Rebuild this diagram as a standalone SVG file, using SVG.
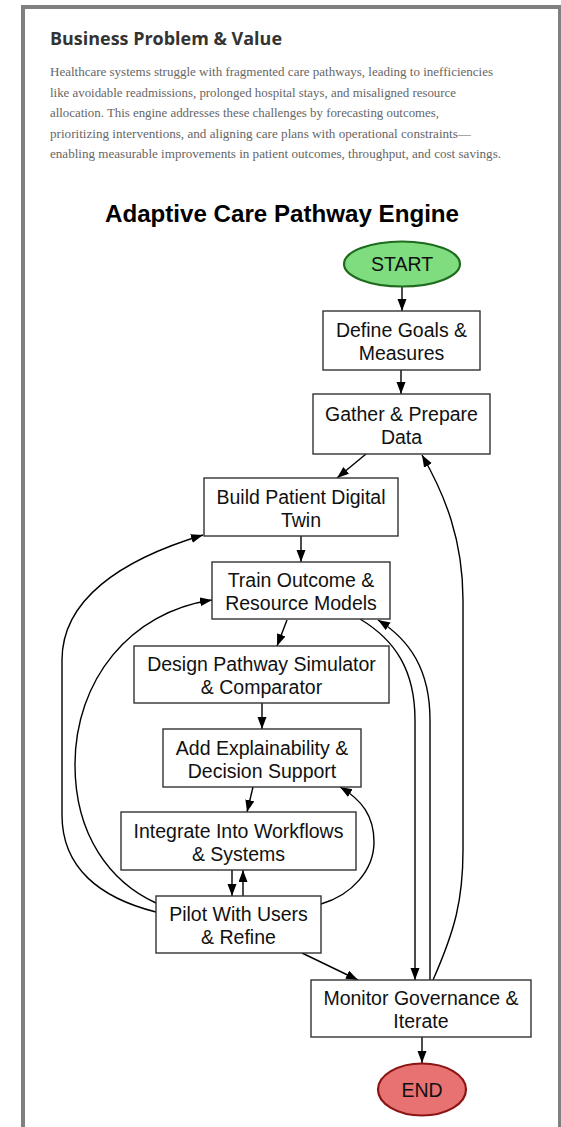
<svg xmlns="http://www.w3.org/2000/svg" width="561" height="1127" viewBox="0 0 561 1127">
  <style>
    .frame { fill: #ffffff; stroke: #808080; stroke-width: 4; }
    .h2 { font-family: "Open Sans", "Liberation Sans", sans-serif; font-weight: 700; font-size: 18px; fill: #333333; }
    .para { font-family: "Liberation Serif", "DejaVu Serif", serif; font-size: 12px; fill: #666666; }
    .title { font-family: "Liberation Sans", Arial, sans-serif; font-weight: 700; font-size: 24.5px; fill: #000000; }
    .box { fill: #ffffff; stroke: #333333; stroke-width: 1.4; }
    .lbl { font-family: "Liberation Sans", Arial, sans-serif; font-size: 19.5px; fill: #111111; text-anchor: middle; }
    .start { fill: #7fdc7f; stroke: #1e6b1e; stroke-width: 2.2; }
    .end { fill: #e87272; stroke: #8b1414; stroke-width: 2.2; }
    .edge { fill: none; stroke: #000000; stroke-width: 1.4; marker-end: url(#arrow); }
  </style>
  <defs>
    <marker id="arrow" markerUnits="userSpaceOnUse" markerWidth="13" markerHeight="10" refX="12" refY="4.5" orient="auto">
      <path d="M0,0 L12,4.5 L0,9 Z" fill="#000000"/>
    </marker>
  </defs>

  <rect class="frame" x="23" y="7" width="537" height="1200"/>

  <!-- intro section -->
  <text class="h2" x="50" y="44.5" textLength="232" lengthAdjust="spacingAndGlyphs">Business Problem &amp; Value</text>
  <g class="para">
    <text x="50" y="76" textLength="443" lengthAdjust="spacingAndGlyphs">Healthcare systems struggle with fragmented care pathways, leading to inefficiencies</text>
    <text x="50" y="96.5" textLength="406" lengthAdjust="spacingAndGlyphs">like avoidable readmissions, prolonged hospital stays, and misaligned resource</text>
    <text x="50" y="117" textLength="389" lengthAdjust="spacingAndGlyphs">allocation. This engine addresses these challenges by forecasting outcomes,</text>
    <text x="50" y="137.5" textLength="421" lengthAdjust="spacingAndGlyphs">prioritizing interventions, and aligning care plans with operational constraints—</text>
    <text x="50" y="158" textLength="451" lengthAdjust="spacingAndGlyphs">enabling measurable improvements in patient outcomes, throughput, and cost savings.</text>
  </g>

  <text class="title" x="105" y="222" textLength="354" lengthAdjust="spacingAndGlyphs">Adaptive Care Pathway Engine</text>

  <!-- connectors -->
  <g id="edges">
    <path class="edge" d="M402,287 L402,311"/>
    <path class="edge" d="M401,370 L401,394"/>
    <path class="edge" d="M366,454 L337,478"/>
    <path class="edge" d="M301,536 L301,562"/>
    <path class="edge" d="M287,620 L277,646"/>
    <path class="edge" d="M262,703 L262,729"/>
    <path class="edge" d="M253,787 L247,812"/>
    <path class="edge" d="M232,870 L232,896"/>
    <path class="edge" d="M243,896 L243,870"/>
    <path class="edge" d="M302,953 L358,980"/>
    <path class="edge" d="M422,1037 L422,1063"/>
    <!-- Train -> Monitor -->
    <path class="edge" d="M360,619 C395,640 415,670 415,720 L415,980"/>
    <!-- Monitor -> Train -->
    <path class="edge" d="M430,980 L430,720 C430,670 410,640 378,620"/>
    <!-- Monitor -> Gather -->
    <path class="edge" d="M433,980 C455,930 463,900 463,850 L463,600 C463,540 445,495 422,455"/>
    <!-- Pilot -> Build -->
    <path class="edge" d="M156,912 C100,898 62,868 62,815 L62,660 C62,600 120,560 203,535"/>
    <!-- Pilot -> Train -->
    <path class="edge" d="M156,903 C110,882 75,835 75,765 C75,680 130,612 212,600"/>
    <!-- Pilot -> Add -->
    <path class="edge" d="M321,904 C352,895 374,870 374,842 C374,816 362,800 340,787"/>
  </g>

  <!-- nodes -->
  <g id="start">
    <ellipse class="start" cx="402" cy="264" rx="58" ry="22.5"/>
    <text class="lbl" x="402" y="271" font-size="20.5">START</text>
  </g>
  <g id="define-goals">
    <rect class="box" x="323" y="311" width="157" height="59"/>
    <text class="lbl" x="401.5" y="337">Define Goals &amp;</text>
    <text class="lbl" x="401.5" y="360">Measures</text>
  </g>
  <g id="gather-data">
    <rect class="box" x="313" y="394" width="177" height="60"/>
    <text class="lbl" x="401.5" y="420.5">Gather &amp; Prepare</text>
    <text class="lbl" x="401.5" y="443.5">Data</text>
  </g>
  <g id="digital-twin">
    <rect class="box" x="204" y="478" width="194" height="58"/>
    <text class="lbl" x="301" y="503.5">Build Patient Digital</text>
    <text class="lbl" x="301" y="526.5">Twin</text>
  </g>
  <g id="train-models">
    <rect class="box" x="212" y="562" width="178" height="57"/>
    <text class="lbl" x="301" y="587">Train Outcome &amp;</text>
    <text class="lbl" x="301" y="610">Resource Models</text>
  </g>
  <g id="pathway-simulator">
    <rect class="box" x="134" y="646" width="255" height="57"/>
    <text class="lbl" x="261.5" y="671">Design Pathway Simulator</text>
    <text class="lbl" x="261.5" y="694">&amp; Comparator</text>
  </g>
  <g id="explainability">
    <rect class="box" x="163" y="729" width="198" height="58"/>
    <text class="lbl" x="262" y="754.5">Add Explainability &amp;</text>
    <text class="lbl" x="262" y="777.5">Decision Support</text>
  </g>
  <g id="integrate">
    <rect class="box" x="121" y="812" width="235" height="58"/>
    <text class="lbl" x="238.5" y="837.5">Integrate Into Workflows</text>
    <text class="lbl" x="238.5" y="860.5">&amp; Systems</text>
  </g>
  <g id="pilot">
    <rect class="box" x="156" y="896" width="165" height="57"/>
    <text class="lbl" x="238.5" y="921">Pilot With Users</text>
    <text class="lbl" x="238.5" y="944">&amp; Refine</text>
  </g>
  <g id="monitor">
    <rect class="box" x="311" y="980" width="220" height="57"/>
    <text class="lbl" x="421" y="1005">Monitor Governance &amp;</text>
    <text class="lbl" x="421" y="1028">Iterate</text>
  </g>
  <g id="end">
    <ellipse class="end" cx="422" cy="1089.5" rx="44" ry="26"/>
    <text class="lbl" x="422" y="1097">END</text>
  </g>
</svg>
